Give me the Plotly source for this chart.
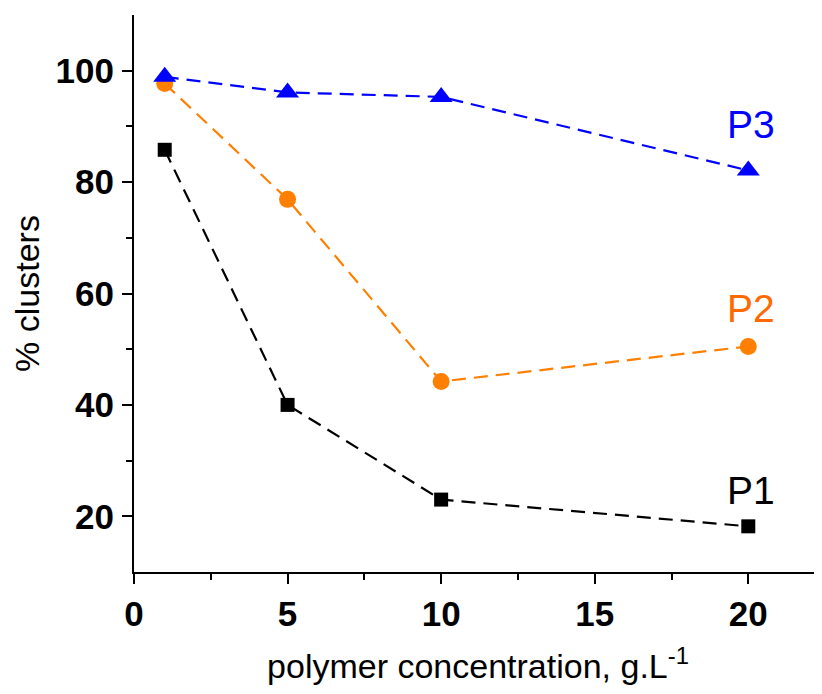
import plotly.graph_objects as go

conc = [1, 5, 10, 20]
p1 = [85.8, 40.0, 23.0, 18.2]
p2 = [97.7, 76.9, 44.2, 50.5]
p3 = [98.9, 96.1, 95.3, 82.1]
series_names = ["P1", "P2", "P3"]
label_y = [24.7, 57.3, 90.3]
x_ticks = [0, 5, 10, 15, 20]
y_ticks = [20, 40, 60, 80, 100]

fig = go.Figure()
styles = [
    ("black", "square", 14, "black"),
    ("#FF8000", "circle", 17, "#FF6A00"),
    ("#0000FF", "triangle-up", 20, "#0000FF"),
]
for vals, name, (col, sym, sz, tcol), ly in zip([p1, p2, p3], series_names, styles, label_y):
    fig.add_trace(go.Scatter(
        x=conc, y=vals, mode="lines+markers", name=name,
        line=dict(color=col, width=2.2, dash="14px,8px"),
        marker=dict(color=col, symbol=sym, size=sz),
        showlegend=False,
    ))
    fig.add_annotation(x=20.1, y=ly, text=name, showarrow=False,
                       font=dict(family="Liberation Sans", size=39, color=tcol))

fig.update_xaxes(
    range=[0, 22.4], tickvals=x_ticks, ticks="outside", ticklen=10, tickwidth=2,
    tickcolor="black", automargin=False,
    showline=True, linecolor="black", linewidth=2, showgrid=False, zeroline=False,
    tickfont=dict(family="Liberation Sans", size=35, color="black", weight="bold"),
    minor=dict(tickvals=[2.5, 7.5, 12.5, 17.5], ticks="outside", ticklen=6, tickwidth=2, tickcolor="black"),
    title=dict(text="polymer concentration, g.L<sup>-1</sup>",
               font=dict(family="Liberation Sans", size=34, color="black"), standoff=22),
)
fig.update_yaxes(
    range=[10, 110], tickvals=y_ticks, ticks="outside", ticklen=10, tickwidth=2,
    tickcolor="black", automargin=False, ticklabelstandoff=1,
    showline=True, linecolor="black", linewidth=2, showgrid=False, zeroline=False,
    tickfont=dict(family="Liberation Sans", size=35, color="black", weight="bold"),
    minor=dict(tickvals=[30, 50, 70, 90], ticks="outside", ticklen=6, tickwidth=2, tickcolor="black"),
    title=dict(text="% clusters",
               font=dict(family="Liberation Sans", size=34, color="black"), standoff=8),
)
# page body adds an 8px margin, so the figure is sized to fit the remaining window
fig.update_layout(
    width=814, height=686,
    margin=dict(l=126, r=0, t=7, b=122),
    plot_bgcolor="white", paper_bgcolor="white",
)
fig.write_html("out.html")
